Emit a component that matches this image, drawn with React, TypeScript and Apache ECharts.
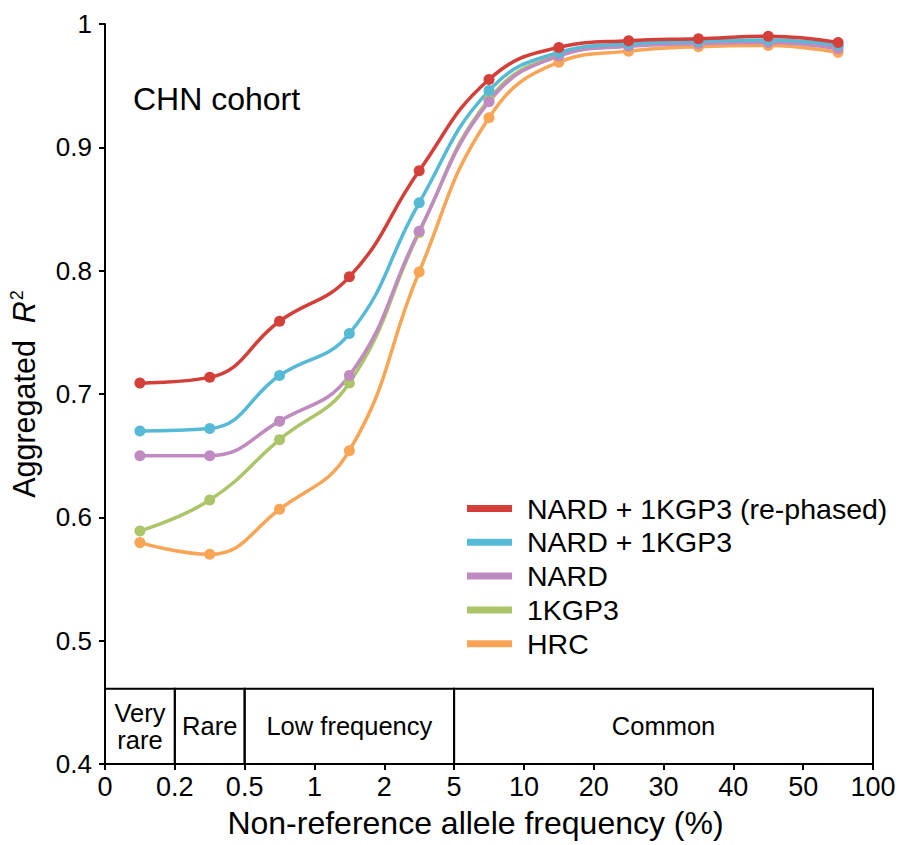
import React, { useEffect, useRef } from 'react';
import * as echarts from 'echarts';

// Frequency bins (axis tick labels at the bin boundaries)
const xTickLabels = ['0', '0.2', '0.5', '1', '2', '5', '10', '20', '30', '40', '50', '100'];

// Series values, one per bin (11 bins)
const nardKgpRephased = [0.709, 0.7135, 0.759, 0.795, 0.881, 0.955, 0.981, 0.9865, 0.988, 0.99, 0.985];
const nardKgp = [0.67, 0.672, 0.715, 0.749, 0.855, 0.946, 0.977, 0.984, 0.986, 0.987, 0.983];
const nard = [0.65, 0.65, 0.678, 0.715, 0.832, 0.937, 0.974, 0.982, 0.984, 0.985, 0.98];
const kgp3 = [0.589, 0.614, 0.663, 0.709, 0.831, 0.939, 0.975, 0.983, 0.985, 0.986, 0.982];
const hrc = [0.5795, 0.57, 0.6065, 0.654, 0.799, 0.924, 0.969, 0.978, 0.9816, 0.9825, 0.977];

const seriesNames = ['NARD + 1KGP3 (re-phased)', 'NARD + 1KGP3', 'NARD', '1KGP3', 'HRC'];
const seriesValues = [nardKgpRephased, nardKgp, nard, kgp3, hrc];
const seriesColors = ['#d43f3a', '#56bad6', '#c08bc0', '#abc568', '#f8a556'];

// Frequency classes (in bin-boundary index units)
const bandLabels = ['Very\nrare', 'Rare', 'Low frequency', 'Common'];
const bandStarts = [0, 1, 2, 5];
const bandEnds = [1, 2, 5, 11];
const bandTop = 0.461;

const FONT = '"Liberation Sans", Arial, Helvetica, sans-serif';

export default function App() {
  const ref = useRef<HTMLDivElement>(null);

  useEffect(() => {
    if (!ref.current) return;
    const chart = echarts.init(ref.current, undefined, { renderer: 'svg' });

    const lineSeries = seriesNames
      .map((name, k) => ({
        name,
        type: 'line',
        smooth: 0.45,
        symbol: 'circle',
        symbolSize: 11,
        showSymbol: true,
        lineStyle: { width: 3.5, color: seriesColors[k] },
        itemStyle: { color: seriesColors[k] },
        emphasis: { disabled: true },
        data: seriesValues[k].map((v, i) => [i + 0.5, v]),
      }))
      .reverse(); // draw HRC first, re-phased last (on top)

    const bandSeries = {
      name: 'bands',
      type: 'line',
      data: [],
      silent: true,
      markArea: {
        silent: true,
        itemStyle: { color: 'rgba(0,0,0,0)', borderColor: '#000', borderWidth: 2 },
        label: {
          show: true,
          position: 'inside',
          formatter: '{b}',
          color: '#000',
          fontSize: 25.5,
          lineHeight: 27,
          fontFamily: FONT,
        },
        emphasis: { disabled: true },
        data: bandStarts.map((s, i) => [
          { xAxis: s, yAxis: 0.4, name: bandLabels[i] },
          { xAxis: bandEnds[i], yAxis: bandTop },
        ]),
      },
    };

    chart.setOption({
      animation: false,
      textStyle: { fontFamily: FONT },
      grid: { left: 104, right: 26, top: 24, bottom: 81, containLabel: false },
      legend: {
        data: seriesNames,
        orient: 'vertical',
        left: 467,
        top: 494,
        padding: 0,
        itemGap: 4.8,
        itemWidth: 45,
        itemHeight: 7,
        icon: 'rect',
        selectedMode: false,
        textStyle: { fontSize: 28.5, color: '#000', fontFamily: FONT, padding: [0, 0, 0, 10] },
      },
      graphic: [
        {
          type: 'text',
          left: 133,
          top: 83,
          style: { text: 'CHN cohort', fontSize: 32, fill: '#000', fontFamily: FONT },
        },
      ],
      xAxis: {
        type: 'value',
        min: 0,
        max: xTickLabels.length - 1,
        interval: 1,
        splitLine: { show: false },
        axisLine: { show: true, lineStyle: { color: '#000', width: 2 } },
        axisTick: { show: true, inside: false, length: 6, lineStyle: { color: '#000', width: 2 } },
        axisLabel: {
          formatter: (v: number) => xTickLabels[Math.round(v)] ?? '',
          fontSize: 27,
          color: '#000',
          margin: 9,
          fontFamily: FONT,
          hideOverlap: false,
        },
        name: 'Non-reference allele frequency (%)',
        nameLocation: 'middle',
        nameGap: 43,
        nameTextStyle: { fontSize: 32, color: '#000', fontFamily: FONT, padding: [0, 27, 0, 0] },
      },
      yAxis: {
        type: 'value',
        min: 0.4,
        max: 1,
        interval: 0.1,
        splitLine: { show: false },
        axisLine: { show: true, lineStyle: { color: '#000', width: 2 } },
        axisTick: { show: true, inside: false, length: 6, lineStyle: { color: '#000', width: 2 } },
        axisLabel: {
          fontSize: 26,
          color: '#000',
          margin: 13,
          fontFamily: FONT,
          formatter: (v: number) => String(Math.round(v * 10) / 10),
        },
        name: '{a|Aggregated  }{i|R}{s|2}',
        nameLocation: 'middle',
        nameGap: 66,
        nameTextStyle: {
          color: '#000',
          fontFamily: FONT,
          rich: {
            a: { fontSize: 30.5, lineHeight: 31, color: '#000', fontFamily: FONT },
            i: { fontSize: 30.5, lineHeight: 31, color: '#000', fontStyle: 'italic', fontFamily: FONT },
            s: { fontSize: 18, lineHeight: 18, verticalAlign: 'top', color: '#000', fontFamily: FONT, padding: [0, 0, 0, 1] },
          },
        },
      },
      series: [bandSeries, ...lineSeries],
    });

    return () => chart.dispose();
  }, []);

  return (
    <div
      ref={ref}
      style={{ position: 'fixed', left: 0, top: 0, width: 899, height: 845, background: '#fff' }}
    />
  );
}
